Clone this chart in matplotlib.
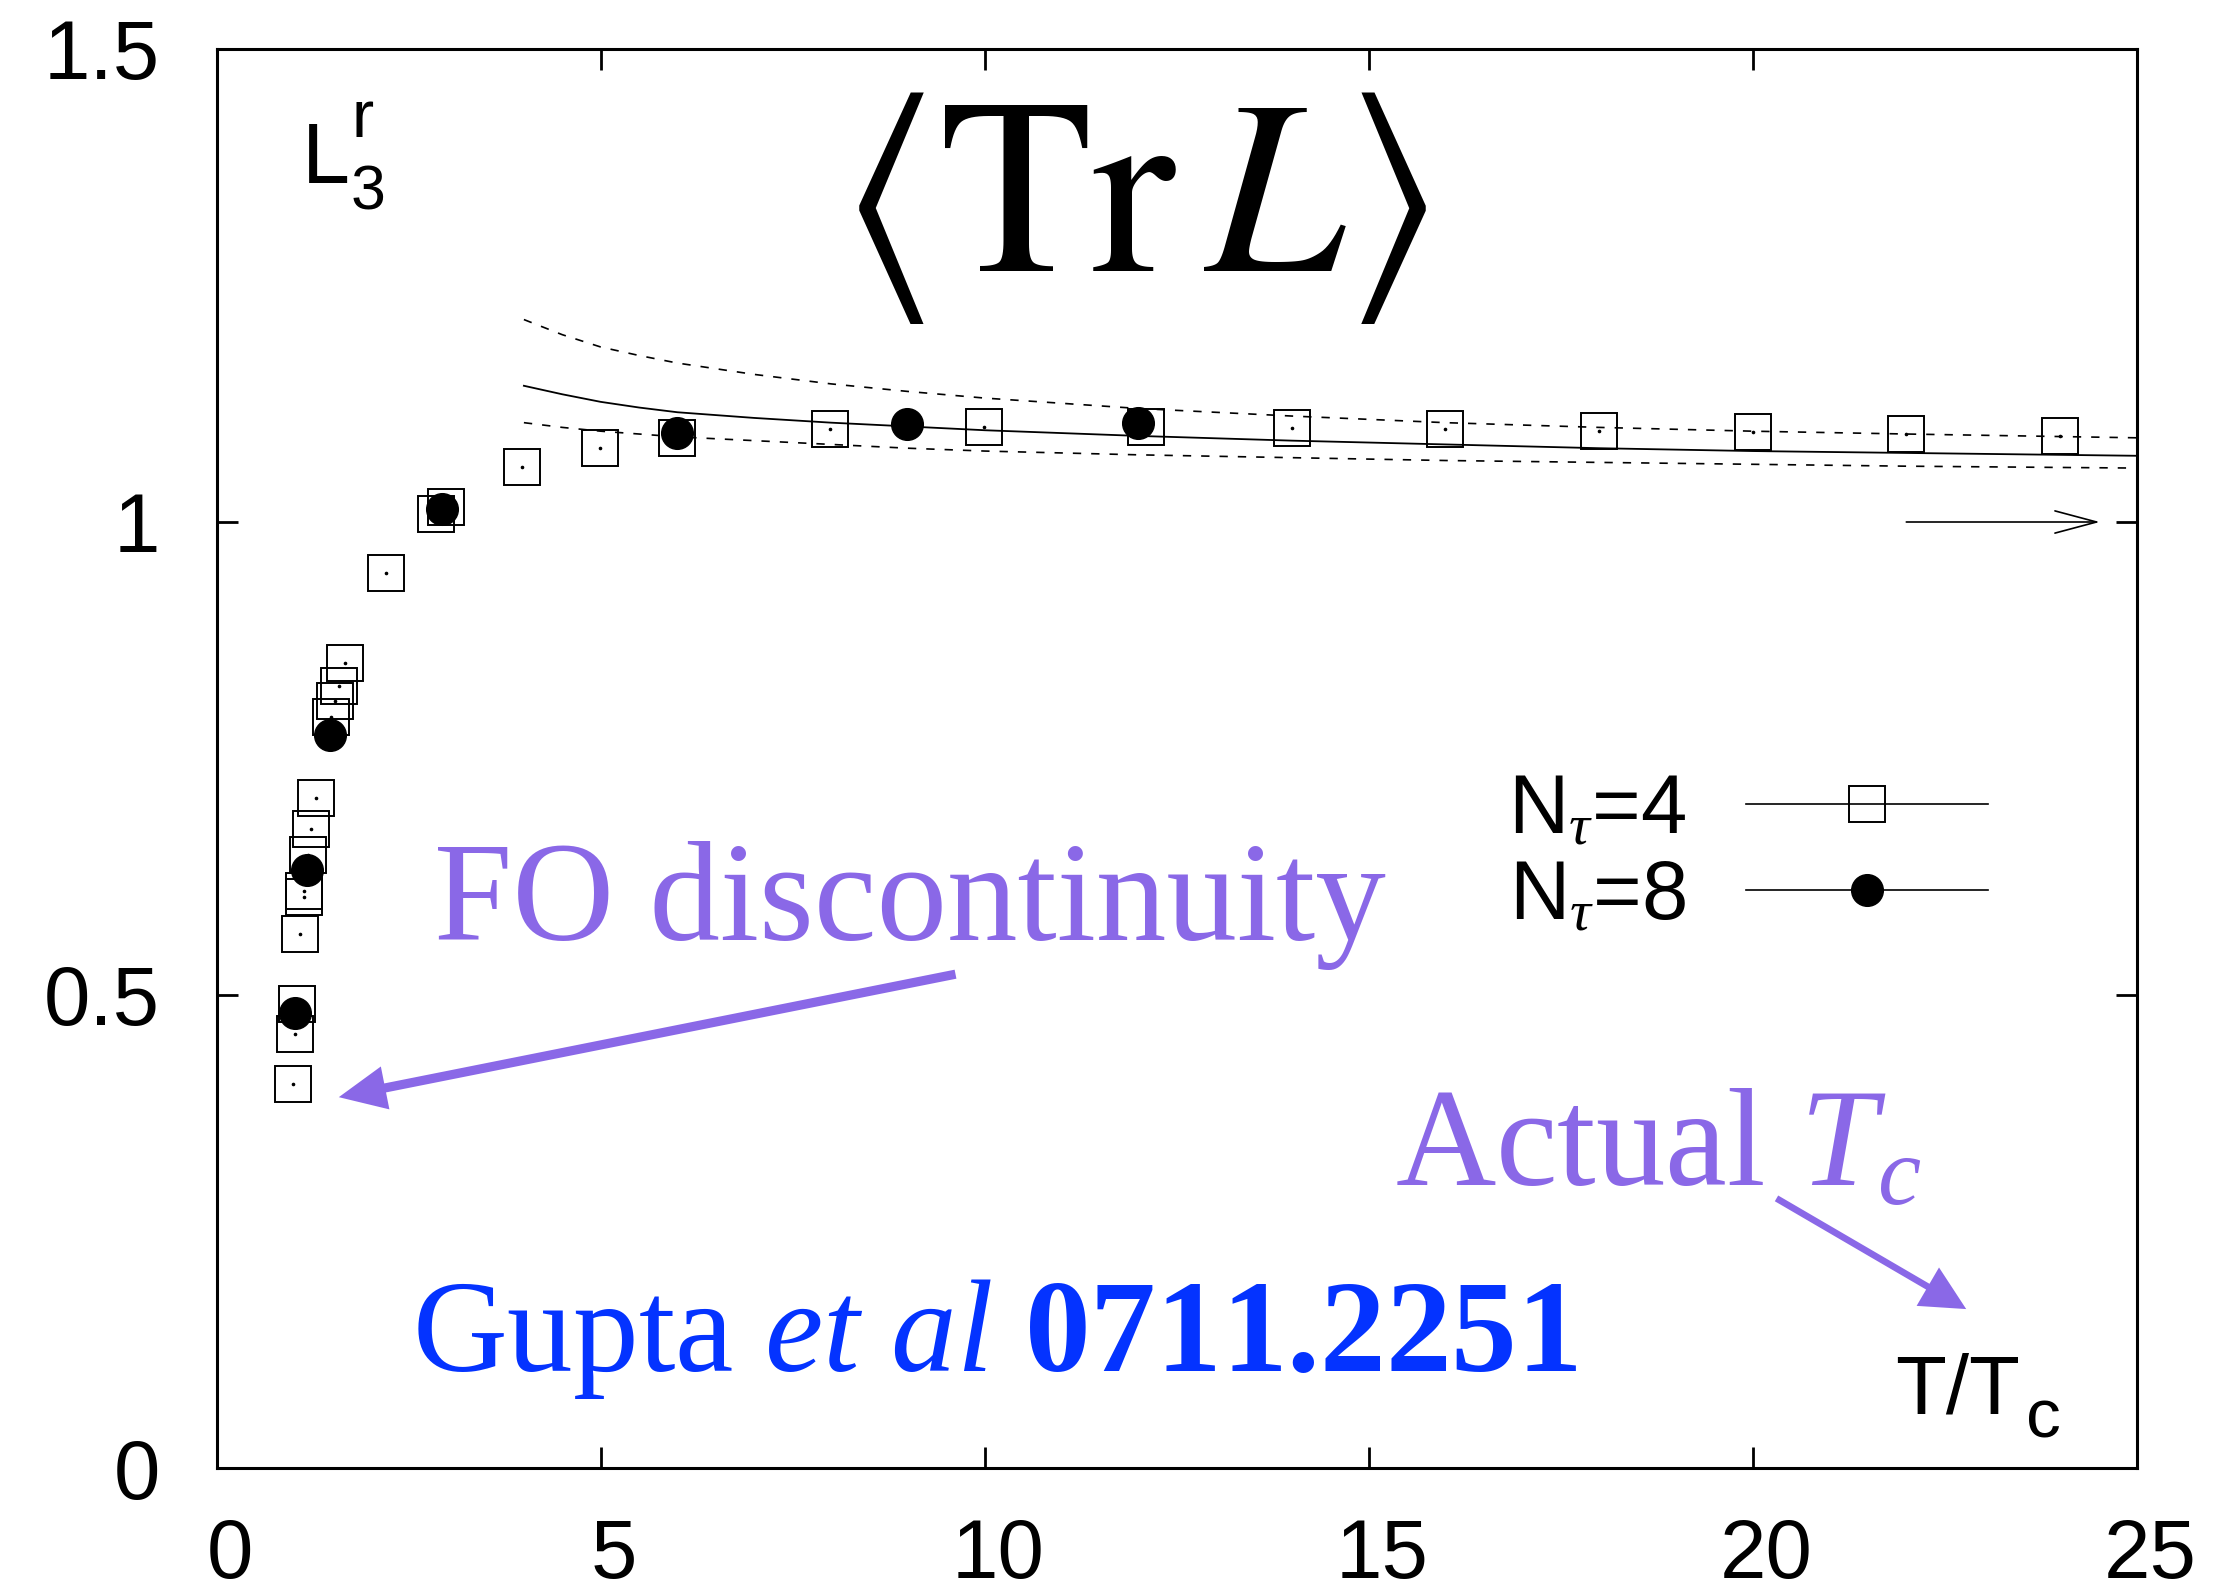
import matplotlib
matplotlib.use("Agg")
import matplotlib.pyplot as plt
from matplotlib.lines import Line2D
from matplotlib.transforms import ScaledTranslation

plt.rcParams['font.family'] = ['Liberation Sans', 'DejaVu Sans']
plt.rcParams['mathtext.fontset'] = 'custom'
plt.rcParams['mathtext.rm'] = 'Liberation Serif'
plt.rcParams['mathtext.it'] = 'Liberation Serif:italic'
plt.rcParams['mathtext.bf'] = 'Liberation Serif:bold'
plt.rcParams['mathtext.sf'] = 'Liberation Sans'

# ---------------- data ----------------
nt4_x = [1.00, 1.02, 1.04, 1.09, 1.14, 1.14, 1.19, 1.23, 1.29, 1.49, 1.54, 1.59, 1.67,
         2.21, 2.85, 2.99, 3.98, 4.99, 5.99, 7.99, 9.99, 12.1, 14.0, 16.0, 18.0, 20.0, 22.0, 24.0]
nt4_y = [0.406, 0.459, 0.491, 0.564, 0.604, 0.610, 0.648, 0.675, 0.708, 0.794, 0.811, 0.827, 0.851,
         0.946, 1.008, 1.016, 1.058, 1.078, 1.089, 1.098, 1.100, 1.100, 1.099, 1.098, 1.096, 1.095, 1.093, 1.091]
nt8_x = [1.02, 1.17, 1.47, 2.94, 5.99, 8.99, 12.0]
nt8_y = [0.481, 0.632, 0.775, 1.014, 1.094, 1.104, 1.105]

fit_x = [4, 4.5, 5, 5.5, 6, 7, 8, 9, 10, 12, 14, 16, 18, 20, 22, 25]
fit_mid = [1.144, 1.135, 1.127, 1.121, 1.116, 1.110, 1.105, 1.101, 1.097, 1.091, 1.086, 1.082, 1.078, 1.075, 1.073, 1.070]
fit_up = [1.214, 1.198, 1.185, 1.176, 1.168, 1.156, 1.146, 1.138, 1.131, 1.120, 1.112, 1.105, 1.100, 1.096, 1.093, 1.089]
fit_lo = [1.105, 1.100, 1.096, 1.093, 1.090, 1.086, 1.082, 1.078, 1.075, 1.071, 1.068, 1.065, 1.063, 1.061, 1.059, 1.057]

limit_arrow_x = [22.0, 24.52]
limit_value = 1.0
fo_arrow = [(9.62, 0.522), (1.59, 0.392)]
tc_arrow = [(20.31, 0.285), (22.78, 0.168)]

xticks = [0, 5, 10, 15, 20, 25]
yticks = [0, 0.5, 1, 1.5]
ytick_labels = ['0', '0.5', '1', '1.5']

legend_labels = [r'N$_\tau$=4', r'N$_\tau$=8']

PURPLE = '#8A68E7'
BLUE = '#0433FF'

W, H = 2234, 1596
fig = plt.figure(figsize=(W / 100, H / 100), dpi=100)
ax = fig.add_axes([216.7 / W, 1 - 1468 / H, (2136.7 - 216.7) / W, (1468 - 49) / H])
ax.set_xlim(0, 25)
ax.set_ylim(0, 1.5)

def fpos(px, py):
    return (px / W, 1 - py / H)

# fit curves
ax.plot(fit_x, fit_mid, color='k', lw=1.3, zorder=2)
ax.plot(fit_x, fit_up, color='k', lw=1.2, dashes=(5, 6), zorder=2)
ax.plot(fit_x, fit_lo, color='k', lw=1.2, dashes=(5, 6), zorder=2)

# data
ax.plot(nt4_x, nt4_y, ls='none', marker='s', ms=26.4, mfc='none', mec='k', mew=1.4, zorder=3)
ax.plot(nt4_x, nt4_y, ls='none', marker='o', ms=1.6, color='k', zorder=3)
ax.plot(nt8_x, nt8_y, ls='none', marker='o', ms=22.8, color='k', zorder=4)

# limit arrow
ax.annotate('', xy=(limit_arrow_x[1], limit_value), xytext=(limit_arrow_x[0], limit_value),
            arrowprops=dict(arrowstyle='->,head_length=3.0,head_width=0.8', lw=1.2, color='k',
                            shrinkA=0, shrinkB=0, mutation_scale=10))

# purple arrows
ax.annotate('', xy=fo_arrow[1], xytext=fo_arrow[0],
            arrowprops=dict(arrowstyle='simple,head_length=3.4,head_width=3.15,tail_width=0.66',
                            fc=PURPLE, ec='none', lw=0, shrinkA=0, shrinkB=0, mutation_scale=10))
ax.annotate('', xy=tc_arrow[1], xytext=tc_arrow[0],
            arrowprops=dict(arrowstyle='simple,head_length=3.2,head_width=3.2,tail_width=0.48',
                            fc=PURPLE, ec='none', lw=0, shrinkA=0, shrinkB=0, mutation_scale=10))

# ticks & spines
for s in ax.spines.values():
    s.set_linewidth(2.2)
ax.set_xticks(xticks)
ax.set_yticks(yticks)
ax.set_yticklabels(ytick_labels)
ax.tick_params(direction='in', length=15, width=2.0, top=True, right=True, labelsize=60)
ax.tick_params(axis='y', pad=41)
ax.tick_params(axis='x', pad=35)
off = ScaledTranslation(9.7 / 72, 0, fig.dpi_scale_trans)
for lab in ax.get_xticklabels():
    lab.set_transform(lab.get_transform() + off)

# axis label T/Tc
fig.text(*fpos(1895, 1413), 'T/T', fontsize=60, ha='left', va='baseline')
fig.text(*fpos(2026, 1438), 'c', fontsize=50, ha='left', va='baseline')

# L_3^r
fig.text(*fpos(302, 183), 'L', fontsize=62, ha='left', va='baseline')
fig.text(*fpos(351, 209), '3', fontsize=45, ha='left', va='baseline')
fig.text(*fpos(351, 137), 'r', fontsize=48, ha='left', va='baseline')

# title
fig.text(*fpos(1133, 208), r'$\langle \mathrm{Tr}\,L \rangle$', fontsize=180,
         math_fontfamily='stix', ha='center', va='center')

# annotations
fig.text(*fpos(434, 940), 'FO discontinuity', fontsize=101.5, family='Liberation Serif',
         color=PURPLE, ha='left', va='baseline')
fig.text(*fpos(1395, 1185), r'Actual $T_c$', fontsize=100, family='Liberation Serif',
         color=PURPLE, ha='left', va='baseline')
fig.text(*fpos(412, 1371), r'$\mathrm{Gupta}\ \mathit{et\ al}\ \mathbf{0711.2251}$', fontsize=94.5,
         color=BLUE, ha='left', va='baseline')

# legend
handles = [Line2D([], [], color='k', lw=1.2, marker='s', ms=26.4, mfc='none', mec='k', mew=1.4),
           Line2D([], [], color='k', lw=1.2, marker='o', ms=22.8, mfc='k', mec='k')]
leg = ax.legend(handles, legend_labels, markerfirst=False, frameon=False, fontsize=60,
                loc='upper left', bbox_to_anchor=fpos(1508, 772), bbox_transform=fig.transFigure,
                borderpad=0, borderaxespad=0, handlelength=2.9, handletextpad=0.72,
                labelspacing=0.1, numpoints=1)

fig.savefig('out.png', dpi=100)
